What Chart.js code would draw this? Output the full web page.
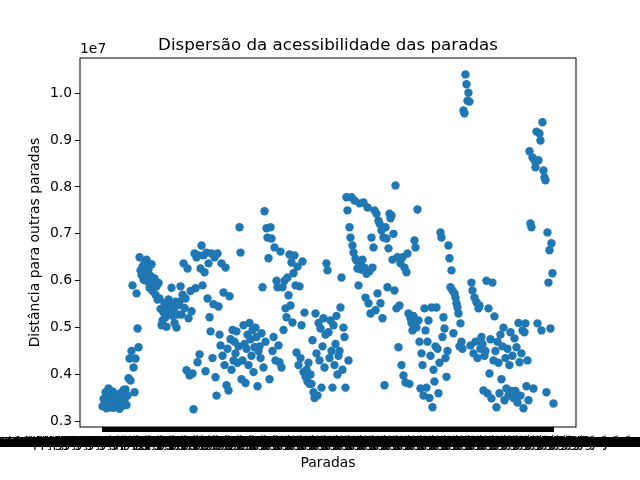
<!DOCTYPE html>
<html>
<head>
<meta charset="utf-8">
<script src="https://cdn.jsdelivr.net/npm/chart.js@4.4.1/dist/chart.umd.min.js"></script>
<style>
  html, body { margin: 0; padding: 0; background: #fff; }
  #box { width: 640px; height: 480px; }
</style>
</head>
<body>
<div id="box"><canvas id="dispersao" width="640" height="480"></canvas></div>
<script>
// distancias para outras paradas, em milhoes (o eixo mostra x 1e7)
const trechoInicio = [
  3.32, 3.48, 3.38, 3.62, 3.28, 3.52, 3.70, 3.41, 3.30, 3.55, 3.64, 3.29, 3.44, 3.58, 3.35, 3.50, 3.40, 3.27, 3.60, 3.45, 3.33, 3.67,
  3.46, 3.68, 3.35, 3.55, 3.92, 4.34, 3.87, 4.50, 5.90, 4.15, 3.62, 4.34, 5.73, 4.98, 4.58,
  6.50, 6.22, 6.12, 6.30, 6.02, 6.40, 6.18, 6.45, 5.98, 6.25, 5.85, 6.10, 6.35, 5.78, 5.92, 6.05, 5.70, 5.88, 5.60, 5.95,
  5.62, 5.40, 5.05, 5.15, 5.32, 5.52, 5.22, 5.02, 5.45, 5.60, 5.30, 5.50, 5.85, 5.25, 5.38, 5.10, 5.55, 5.00, 5.28, 5.48];
const trechoCentroA = [
  5.55, 5.88, 5.28, 5.70, 6.37, 5.42, 5.62, 4.09, 6.26, 5.20, 3.98, 5.78, 5.35, 4.02, 3.26,
  6.58, 5.84, 6.50, 4.26, 6.54, 4.43, 6.26, 6.75, 5.90, 6.54, 6.18, 4.07, 6.60, 5.62, 6.37, 5.22, 4.92, 6.58, 4.35, 5.50,
  6.50, 3.94, 3.55, 6.58, 5.45, 4.85, 4.62, 6.37, 4.40, 5.75, 4.20, 6.28, 3.77, 4.55, 3.66, 5.67, 4.75, 4.10, 4.95, 4.30,
  4.70, 4.45, 4.92, 4.25, 4.60, 7.14, 6.60, 3.90, 4.30, 5.05, 4.65, 3.82, 4.55, 4.85, 4.20, 5.10, 4.75, 4.40, 4.95, 4.05,
  4.58, 5.00, 4.80, 3.75, 4.50];
const trechoCentroB = [
  4.60, 4.35, 4.88, 5.86, 4.15, 7.48, 4.70, 7.12, 6.92, 6.48, 3.90, 7.14, 6.90, 4.50, 4.80, 6.71, 4.30, 6.00, 5.86, 4.62,
  4.26, 6.62, 4.15, 5.86, 4.95,
  6.00, 5.41, 5.22, 6.07, 5.69, 6.56, 5.47, 6.39, 5.11, 6.16, 6.54, 5.90, 4.47, 6.30, 4.20, 5.88, 4.35, 5.05, 6.41, 4.05,
  5.32, 3.95, 4.10, 3.85, 4.25, 3.80, 4.00,
  3.80, 4.73, 3.62, 3.50, 5.30, 4.45, 3.55, 5.10, 4.30, 4.98, 3.72, 4.60, 5.20, 4.15, 4.85, 6.37, 6.22, 4.90, 4.35, 5.15,
  4.50, 3.72, 5.05, 4.20, 4.65, 5.25, 4.00, 4.40,
  4.50, 5.43, 6.07, 4.10, 5.00, 4.80, 3.72, 7.78, 7.50, 4.30];
const trechoCentroC = [
  7.14, 6.92, 7.78, 6.75, 6.60, 7.71, 6.47, 6.43, 6.26, 5.90, 7.65, 6.33, 6.24, 6.45, 7.67, 6.28, 5.64, 6.15, 7.56, 5.52,
  6.20, 5.30, 6.92, 6.28, 6.71,
  7.50, 5.37, 7.43, 5.73, 7.28, 7.22, 5.52, 7.07, 5.20, 6.92, 3.77, 7.14, 6.90, 5.86, 6.69,
  7.43, 7.33, 7.39, 6.45, 7.00, 5.79, 8.03, 5.41, 6.50, 4.58, 5.47, 6.37, 4.20, 6.50, 3.98, 6.28, 3.83, 6.18,
  6.58, 5.30, 3.80, 5.20, 5.10, 4.94, 5.25, 6.86, 6.71, 5.00, 7.52, 5.15, 4.70, 3.70, 4.45, 4.20, 3.55,
  5.41, 4.94, 3.72, 4.70, 5.15, 3.50, 4.40, 5.43, 3.30, 4.10, 3.85, 4.60, 5.43, 4.55, 3.60, 4.25, 7.03, 6.92, 4.80, 5.22,
  4.98, 4.35, 3.95, 4.50, 6.75];
const trechoFinal = [
  6.48, 5.86, 6.22, 5.79, 4.88, 5.73, 5.64, 5.52, 5.43, 5.30, 4.60, 5.09, 4.70, 4.55, 9.63, 9.57, 10.40, 10.19, 9.84, 10.01,
  9.82, 4.62, 5.96, 5.79, 4.45, 5.64, 4.70, 5.54, 4.35, 5.41, 5.47, 4.55, 4.80, 4.65, 3.66, 4.40, 4.50, 6.00, 3.60, 5.41,
  4.02, 4.75, 3.49, 5.96, 4.30,
  5.24, 4.50, 3.30, 4.70, 4.25, 3.60, 4.85, 3.90, 4.60, 5.00, 3.45, 4.35, 3.70, 4.55, 3.55, 4.20, 4.90, 3.65, 4.40, 3.50,
  4.77, 3.65, 4.58, 3.40, 5.10, 4.26, 3.55, 4.45, 4.94, 3.28, 4.90, 5.09, 3.75, 4.30, 3.45,
  8.76, 7.22, 7.14, 8.63, 3.70, 8.57, 8.42, 9.18, 5.09, 8.57, 9.14, 8.99, 4.94, 9.38, 8.35, 8.20, 8.14, 3.62, 7.03, 5.96,
  6.65, 4.98, 6.80, 6.16, 3.38];

const distancias = [].concat(trechoInicio, trechoCentroA, trechoCentroB, trechoCentroC, trechoFinal);
const ESCALA = 1e6;
const ticksY = [3, 4, 5, 6, 7, 8, 9, 10];

const ruas = [
  'Avenida Presidente Vargas - Centro', 'Rua Marechal Deodoro da Fonseca',
  'Terminal Rodoviário Central', 'Largo da República', 'Avenida Brasil - Estação Norte',
  'Rua Dom Manoel II', 'Hospital Municipal São José', 'Escola Estadual Santos Dumont',
  'Rua Sete de Setembro', 'Avenida Getúlio Vargas', 'Rua Barão do Rio Branco',
  'Estação Central do Norte'
];
const paradas = distancias.map((d, i) => ruas[i % ruas.length] + ' ' + (i + 1));

const fonte = '"DejaVu Sans", sans-serif';
const n = distancias.length;

const textos = {
  id: 'textos',
  beforeDraw(chart) {
    const ctx = chart.ctx;
    ctx.save();
    ctx.fillStyle = '#fff';
    ctx.fillRect(0, 0, chart.width, chart.height);
    ctx.restore();
  },
  afterDraw(chart) {
    const ctx = chart.ctx;
    const a = chart.chartArea;
    ctx.save();
    ctx.strokeStyle = '#000';
    ctx.lineWidth = 1;
    ctx.strokeRect(a.left, a.top, a.right - a.left, a.bottom - a.top);
    ctx.fillStyle = '#000';
    ctx.font = '16.7px ' + fonte;
    ctx.textAlign = 'center';
    ctx.textBaseline = 'alphabetic';
    ctx.fillText('Dispersão da acessibilidade das paradas', (a.left + a.right) / 2, a.top - 8);
    ctx.font = '13.9px ' + fonte;
    ctx.textAlign = 'left';
    ctx.fillText('1e7', a.left, a.top - 5);
    ctx.textAlign = 'center';
    ctx.textBaseline = 'middle';
    ctx.fillText('Paradas', (a.left + a.right) / 2, 463);
    ctx.translate(35, (a.top + a.bottom) / 2);
    ctx.rotate(-Math.PI / 2);
    ctx.fillText('Distância para outras paradas', 0, 0);
    ctx.restore();
  }
};

const grade = { drawOnChartArea: false, drawTicks: true, tickLength: 5, color: '#000', lineWidth: 1 };

new Chart(document.getElementById('dispersao'), {
  type: 'scatter',
  data: {
    datasets: [{
      data: distancias.map((d, i) => ({ x: i, y: d * ESCALA })),
      backgroundColor: '#1f77b4',
      borderWidth: 0,
      pointRadius: 4.2,
    }],
  },
  options: {
    responsive: false,
    animation: false,
    devicePixelRatio: 1,
    events: [],
    layout: { padding: { top: 58, right: 64, left: 0, bottom: 0 } },
    plugins: {
      legend: { display: false },
      title: { display: false },
      tooltip: { enabled: false },
    },
    scales: {
      x: {
        type: 'linear',
        min: -0.05 * (n - 1),
        max: 1.05 * (n - 1),
        afterBuildTicks: s => { s.ticks = paradas.map((p, i) => ({ value: i })); },
        afterFit: s => { s.height = 53; s.paddingLeft = 0; s.paddingRight = 0; },
        grid: grade,
        border: { display: false },
        ticks: {
          autoSkip: false,
          maxRotation: 0,
          minRotation: 0,
          padding: 3,
          color: '#000',
          font: { family: fonte, size: 13.9 },
          callback: v => paradas[v],
        },
      },
      y: {
        type: 'linear',
        min: 2.88e6,
        max: 10.75e6,
        afterBuildTicks: s => { s.ticks = ticksY.map(v => ({ value: v * ESCALA })); },
        afterFit: s => { s.width = 80; },
        grid: grade,
        border: { display: false },
        ticks: {
          padding: 3,
          color: '#000',
          font: { family: fonte, size: 13.9 },
          callback: v => (v / 1e7).toFixed(1),
        },
      },
    },
  },
  plugins: [textos],
});
</script>
</body>
</html>
